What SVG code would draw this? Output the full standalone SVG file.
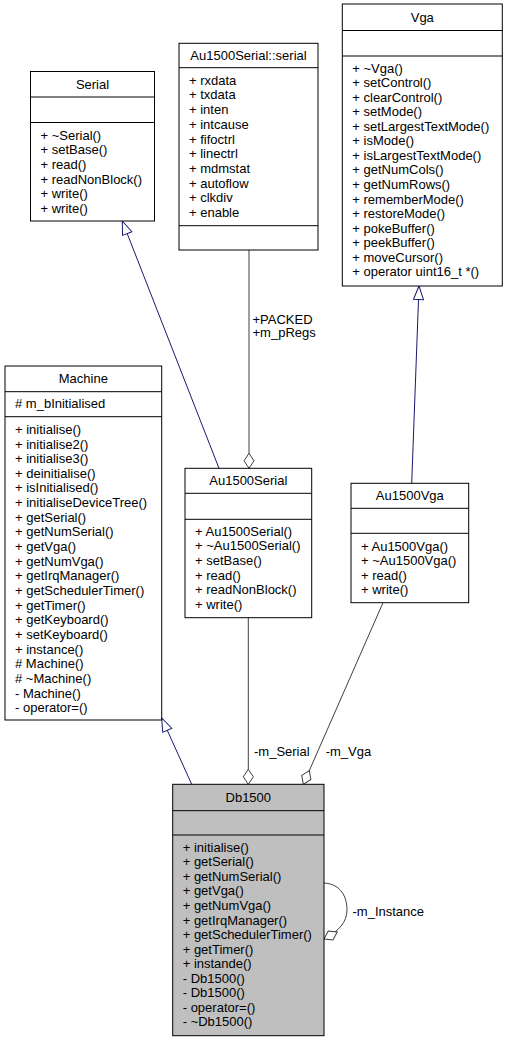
<svg xmlns="http://www.w3.org/2000/svg" width="509" height="1043" viewBox="0 0 509 1043">
<style>
text{font-family:"Liberation Sans",Arial,Helvetica,sans-serif;font-size:13px;fill:#000}
.t{text-anchor:middle}
.box{fill:#fff;stroke:#000;stroke-width:1}
.cur{fill:#bfbfbf;stroke:#000;stroke-width:1}
.div{stroke:#000;stroke-width:1}
.inh{fill:none;stroke:#191970;stroke-width:1;marker-end:url(#tri)}
.agg{fill:none;stroke:#404040;stroke-width:1;marker-end:url(#dia)}
</style>
<defs>
<marker id="tri" markerUnits="userSpaceOnUse" markerWidth="16" markerHeight="14" viewBox="-1 -7 16 14" refX="13.5" refY="0" orient="auto">
<path d="M0,-5 L13.5,0 L0,5 Z" fill="#fff" stroke="#191970" stroke-width="1"/>
</marker>
<marker id="dia" markerUnits="userSpaceOnUse" markerWidth="18" markerHeight="14" viewBox="-1 -7 18 14" refX="15" refY="0" orient="auto">
<path d="M0,0 L7.5,-5 L15,0 L7.5,5 Z" fill="#fff" stroke="#404040" stroke-width="1"/>
</marker>
</defs>
<rect x="0" y="0" width="509" height="1043" fill="#fff"/>

<g id="connectors">
<path class="inh" d="M219,468.3 L122.3,221"/>
<path class="inh" d="M411.7,483.3 L419,286"/>
<path class="inh" d="M191.7,784.3 L161.7,718"/>
<path class="agg" d="M249,250 L249,468.3"/>
<path class="agg" d="M248.3,617.7 L248.3,784.3"/>
<path class="agg" d="M383,602.7 L303.3,784.3"/>
<path class="agg" d="M324,883 C341,884 347,897 347,910 C347,922 339,931 324,939"/>
<text x="252.5" y="323.6">+PACKED</text>
<text x="252.5" y="337.3">+m_pRegs</text>
<text x="254" y="756">-m_Serial</text>
<text x="325.7" y="756">-m_Vga</text>
<text x="352.5" y="916">-m_Instance</text>
</g>

<g id="Serial">
<rect class="box" x="30.5" y="71.5" width="124" height="149.5"/>
<line class="div" x1="30.5" y1="97" x2="154.5" y2="97"/>
<line class="div" x1="30.5" y1="122.5" x2="154.5" y2="122.5"/>
<text class="t" x="92.5" y="88.8">Serial</text>
<text><tspan x="40.5" y="139.5">+ ~Serial()</tspan><tspan x="40.5" y="154.2">+ setBase()</tspan><tspan x="40.5" y="168.8">+ read()</tspan><tspan x="40.5" y="183.5">+ readNonBlock()</tspan><tspan x="40.5" y="198.1">+ write()</tspan><tspan x="40.5" y="212.8">+ write()</tspan></text>
</g>

<g id="Au1500Serial_serial">
<rect class="box" x="179" y="43.3" width="139" height="206.7"/>
<line class="div" x1="179" y1="67.7" x2="318" y2="67.7"/>
<line class="div" x1="179" y1="225.7" x2="318" y2="225.7"/>
<text class="t" x="248.5" y="60">Au1500Serial::serial</text>
<text><tspan x="189" y="84.5">+ rxdata</tspan><tspan x="189" y="99.2">+ txdata</tspan><tspan x="189" y="114">+ inten</tspan><tspan x="189" y="128.7">+ intcause</tspan><tspan x="189" y="143.5">+ fifoctrl</tspan><tspan x="189" y="158.2">+ linectrl</tspan><tspan x="189" y="172.9">+ mdmstat</tspan><tspan x="189" y="187.7">+ autoflow</tspan><tspan x="189" y="202.4">+ clkdiv</tspan><tspan x="189" y="217.2">+ enable</tspan></text>
</g>

<g id="Vga">
<rect class="box" x="342.3" y="4" width="160" height="282"/>
<line class="div" x1="342.3" y1="30.5" x2="502.3" y2="30.5"/>
<line class="div" x1="342.3" y1="56" x2="502.3" y2="56"/>
<text class="t" x="422.3" y="21.7">Vga</text>
<text><tspan x="352.3" y="72.8">+ ~Vga()</tspan><tspan x="352.3" y="87.3">+ setControl()</tspan><tspan x="352.3" y="101.8">+ clearControl()</tspan><tspan x="352.3" y="116.4">+ setMode()</tspan><tspan x="352.3" y="130.9">+ setLargestTextMode()</tspan><tspan x="352.3" y="145.4">+ isMode()</tspan><tspan x="352.3" y="159.9">+ isLargestTextMode()</tspan><tspan x="352.3" y="174.4">+ getNumCols()</tspan><tspan x="352.3" y="189">+ getNumRows()</tspan><tspan x="352.3" y="203.5">+ rememberMode()</tspan><tspan x="352.3" y="218">+ restoreMode()</tspan><tspan x="352.3" y="232.5">+ pokeBuffer()</tspan><tspan x="352.3" y="247">+ peekBuffer()</tspan><tspan x="352.3" y="261.6">+ moveCursor()</tspan><tspan x="352.3" y="276.1">+ operator uint16_t *()</tspan></text>
</g>

<g id="Machine">
<rect class="box" x="5" y="366" width="156.7" height="354"/>
<line class="div" x1="5" y1="391.7" x2="161.7" y2="391.7"/>
<line class="div" x1="5" y1="416.7" x2="161.7" y2="416.7"/>
<text class="t" x="83.3" y="383.4">Machine</text>
<text x="15" y="407.8"># m_bInitialised</text>
<text><tspan x="15" y="433.8">+ initialise()</tspan><tspan x="15" y="448.5">+ initialise2()</tspan><tspan x="15" y="463.1">+ initialise3()</tspan><tspan x="15" y="477.8">+ deinitialise()</tspan><tspan x="15" y="492.4">+ isInitialised()</tspan><tspan x="15" y="507.1">+ initialiseDeviceTree()</tspan><tspan x="15" y="521.7">+ getSerial()</tspan><tspan x="15" y="536.4">+ getNumSerial()</tspan><tspan x="15" y="551">+ getVga()</tspan><tspan x="15" y="565.7">+ getNumVga()</tspan><tspan x="15" y="580.3">+ getIrqManager()</tspan><tspan x="15" y="595">+ getSchedulerTimer()</tspan><tspan x="15" y="609.6">+ getTimer()</tspan><tspan x="15" y="624.3">+ getKeyboard()</tspan><tspan x="15" y="638.9">+ setKeyboard()</tspan><tspan x="15" y="653.6">+ instance()</tspan><tspan x="15" y="668.2"># Machine()</tspan><tspan x="15" y="682.9"># ~Machine()</tspan><tspan x="15" y="697.5">- Machine()</tspan><tspan x="15" y="712.2">- operator=()</tspan></text>
</g>

<g id="Au1500Serial">
<rect class="box" x="185" y="468.3" width="126.7" height="149.4"/>
<line class="div" x1="185" y1="493.3" x2="311.7" y2="493.3"/>
<line class="div" x1="185" y1="519.3" x2="311.7" y2="519.3"/>
<text class="t" x="248.3" y="485.3">Au1500Serial</text>
<text><tspan x="195" y="535.5">+ Au1500Serial()</tspan><tspan x="195" y="550.2">+ ~Au1500Serial()</tspan><tspan x="195" y="564.9">+ setBase()</tspan><tspan x="195" y="579.6">+ read()</tspan><tspan x="195" y="594.3">+ readNonBlock()</tspan><tspan x="195" y="609">+ write()</tspan></text>
</g>

<g id="Au1500Vga">
<rect class="box" x="351" y="483.3" width="117.7" height="119.4"/>
<line class="div" x1="351" y1="508.3" x2="468.7" y2="508.3"/>
<line class="div" x1="351" y1="533.3" x2="468.7" y2="533.3"/>
<text class="t" x="409.8" y="500.3">Au1500Vga</text>
<text><tspan x="361" y="550.5">+ Au1500Vga()</tspan><tspan x="361" y="565">+ ~Au1500Vga()</tspan><tspan x="361" y="579.5">+ read()</tspan><tspan x="361" y="594">+ write()</tspan></text>
</g>

<g id="Db1500">
<rect class="cur" x="172.7" y="784.3" width="151.3" height="251.4"/>
<line class="div" x1="172.7" y1="810.7" x2="324" y2="810.7"/>
<line class="div" x1="172.7" y1="835" x2="324" y2="835"/>
<text class="t" x="248.3" y="802">Db1500</text>
<text><tspan x="182.7" y="851.8">+ initialise()</tspan><tspan x="182.7" y="866.3">+ getSerial()</tspan><tspan x="182.7" y="880.9">+ getNumSerial()</tspan><tspan x="182.7" y="895.4">+ getVga()</tspan><tspan x="182.7" y="909.9">+ getNumVga()</tspan><tspan x="182.7" y="924.5">+ getIrqManager()</tspan><tspan x="182.7" y="939">+ getSchedulerTimer()</tspan><tspan x="182.7" y="953.5">+ getTimer()</tspan><tspan x="182.7" y="968">+ instande()</tspan><tspan x="182.7" y="982.6">- Db1500()</tspan><tspan x="182.7" y="997.1">- Db1500()</tspan><tspan x="182.7" y="1011.6">- operator=()</tspan><tspan x="182.7" y="1026.2">- ~Db1500()</tspan></text>
</g>
</svg>
